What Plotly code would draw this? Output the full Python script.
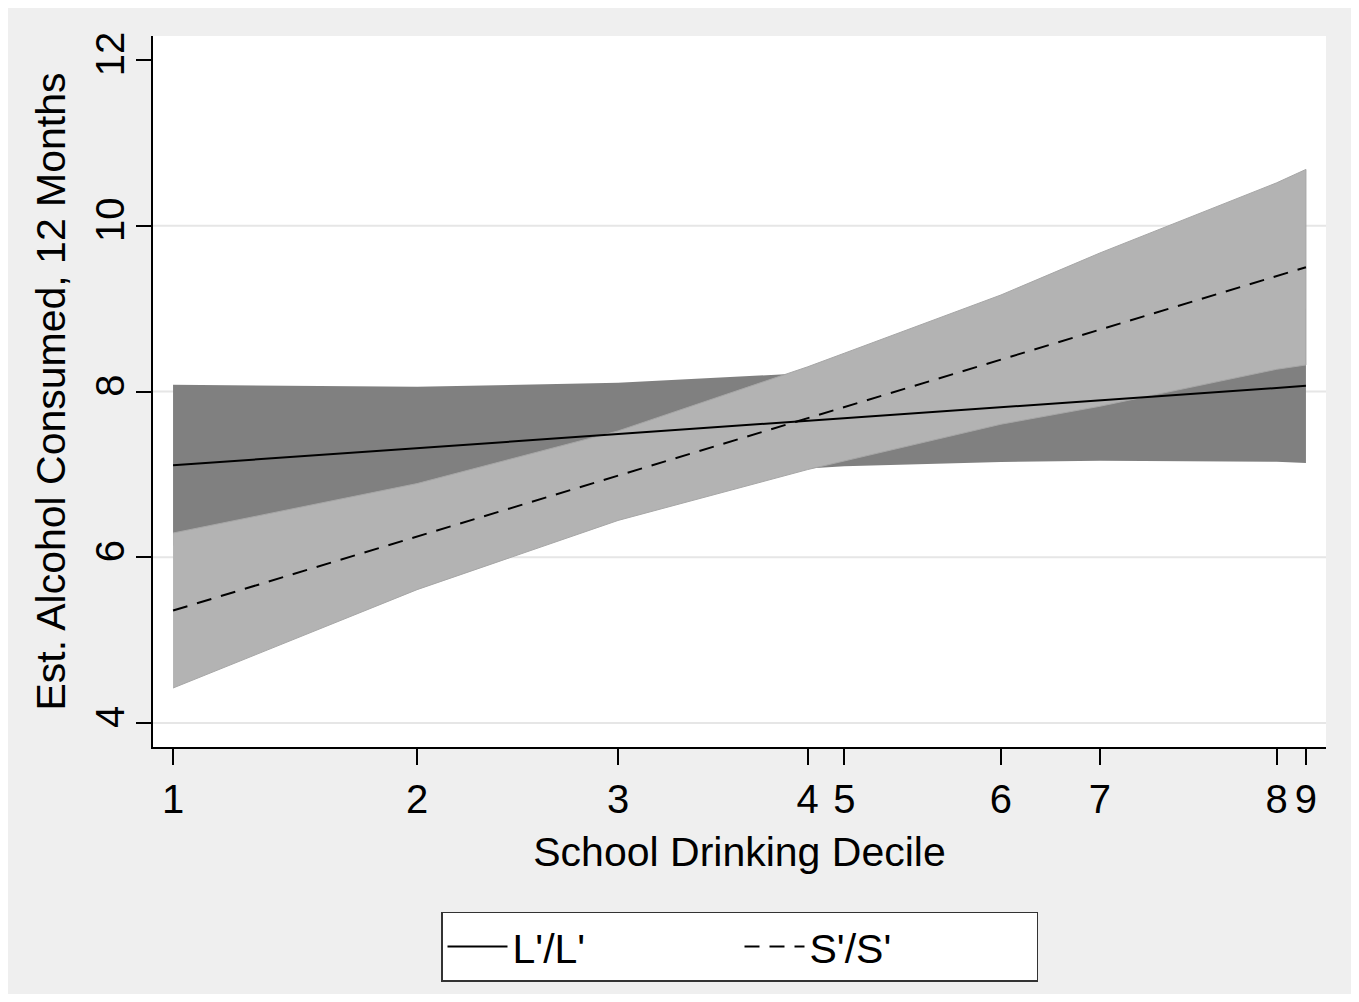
import plotly.graph_objects as go

# ---- data ----
decile_labels = ["1", "2", "3", "4", "5", "6", "7", "8", "9"]
# school drinking measure at each decile (rescaled so decile 1 = 0, decile 9 = 1)
decile_x = [0.0, 0.2154, 0.3928, 0.5602, 0.5925, 0.7308, 0.8182, 0.9741, 1.0]

LL_est = [7.11, 7.316, 7.486, 7.647, 7.678, 7.81, 7.894, 8.043, 8.068]
LL_upper = [8.08, 8.056, 8.106, 8.222, 8.258, 8.47, 8.624, 8.933, 8.998]
LL_lower = [6.14, 6.576, 6.866, 7.072, 7.098, 7.15, 7.164, 7.153, 7.138]

SS_est = [5.357, 6.249, 6.984, 7.678, 7.812, 8.385, 8.747, 9.393, 9.50]
SS_upper = [6.292, 6.889, 7.524, 8.298, 8.462, 9.165, 9.672, 10.518, 10.68]
SS_lower = [4.422, 5.609, 6.444, 7.058, 7.162, 7.605, 7.822, 8.268, 8.32]

y_ticks = [4, 6, 8, 10, 12]
grid_lines = [4, 6, 8, 10]

FONT = "Arial, 'Liberation Sans', sans-serif"

fig = go.Figure()

# L'/L' confidence band (dark)
fig.add_trace(go.Scatter(
    x=decile_x + decile_x[::-1], y=LL_upper + LL_lower[::-1],
    fill="toself", fillcolor="#808080", mode="lines",
    line=dict(color="#808080", width=0), showlegend=False, hoverinfo="skip"))

# S'/S' confidence band (light)
fig.add_trace(go.Scatter(
    x=decile_x + decile_x[::-1], y=SS_upper + SS_lower[::-1],
    fill="toself", fillcolor="#b3b3b3", mode="lines",
    line=dict(color="#a6a6a6", width=1), showlegend=False, hoverinfo="skip"))

fig.add_trace(go.Scatter(
    x=decile_x, y=LL_est, mode="lines", name="L'/L'",
    line=dict(color="black", width=2)))

fig.add_trace(go.Scatter(
    x=decile_x, y=SS_est, mode="lines", name="S'/S'",
    line=dict(color="black", width=2, dash="15px,10px")))

for g in grid_lines:
    fig.add_shape(type="line", xref="paper", yref="y", x0=0, x1=1, y0=g, y1=g,
                  line=dict(color="#e6e6e6", width=2), layer="below")

fig.update_layout(
    width=1343, height=986,
    margin=dict(l=145, r=25, t=28, b=247),
    paper_bgcolor="#efefef", plot_bgcolor="white",
    font=dict(family=FONT, size=41, color="black"),
    xaxis=dict(
        range=[-0.0177, 1.0177], tickvals=decile_x, ticktext=decile_labels,
        showgrid=False, zeroline=False, showline=True, linecolor="black", linewidth=1.5,
        ticks="outside", ticklen=16, tickwidth=1.5, tickcolor="black",
        tickfont=dict(size=40),
        title=dict(text="School Drinking Decile", font=dict(size=41), standoff=18),
        mirror=False),
    yaxis=dict(
        range=[3.71, 12.29], tickvals=y_ticks, tickangle=-90,
        showgrid=False, zeroline=False, showline=True, linecolor="black", linewidth=1.5,
        ticks="outside", ticklen=15, tickwidth=1.5, tickcolor="black",
        tickfont=dict(size=40), ticklabelstandoff=-4,
        title=dict(text="Est. Alcohol Consumed, 12 Months", font=dict(size=41), standoff=10)),
    legend=dict(
        orientation="h", x=0.5, xanchor="center", y=-0.232, yanchor="top",
        bgcolor="white", bordercolor="#333333", borderwidth=1.5,
        font=dict(size=41), entrywidth=222, entrywidthmode="pixels", itemwidth=60),
    showlegend=True,
)

fig.write_html("out.html")
